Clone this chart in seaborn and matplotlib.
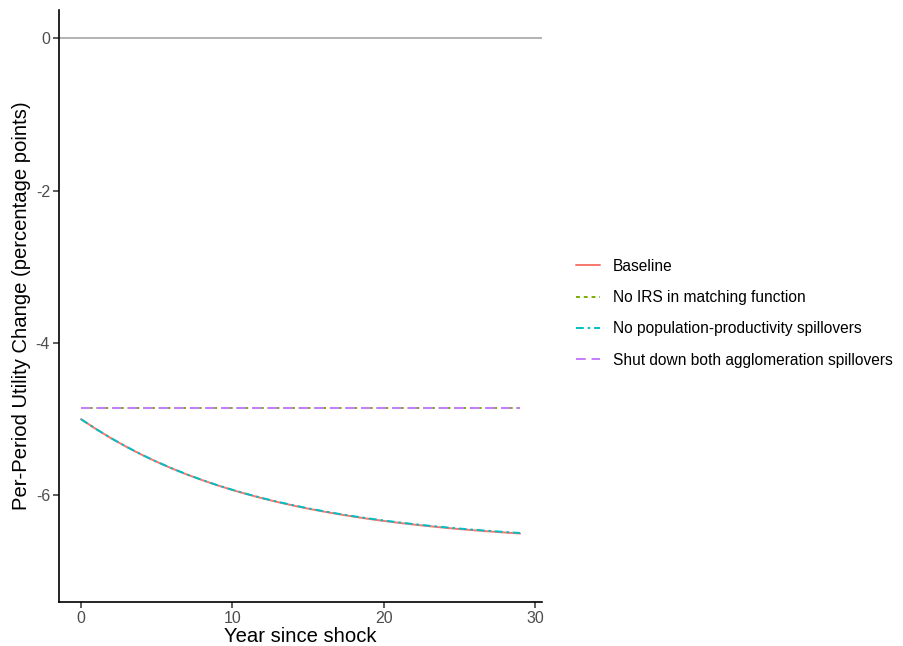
import numpy as np
import pandas as pd
import matplotlib
matplotlib.use("Agg")
import matplotlib.pyplot as plt
import seaborn as sns

# values
years = list(range(30))
baseline = [-5.000, -5.131, -5.252, -5.363, -5.466, -5.560, -5.647, -5.727,
            -5.800, -5.868, -5.930, -5.987, -6.040, -6.089, -6.133, -6.175,
            -6.212, -6.247, -6.279, -6.309, -6.336, -6.361, -6.384, -6.405,
            -6.425, -6.443, -6.459, -6.474, -6.488, -6.501]
no_pop_prod = [-5.000, -5.130, -5.251, -5.362, -5.465, -5.559, -5.645, -5.725,
               -5.798, -5.866, -5.927, -5.984, -6.037, -6.085, -6.129, -6.170,
               -6.207, -6.242, -6.274, -6.303, -6.330, -6.355, -6.378, -6.399,
               -6.418, -6.436, -6.452, -6.467, -6.481, -6.494]
no_irs = [-4.855] * 30
shut_both = [-4.855] * 30

labels = ["Baseline", "No IRS in matching function",
          "No population-productivity spillovers",
          "Shut down both agglomeration spillovers"]
colors = ["#F8766D", "#7CAE00", "#00BFC4", "#C77CFF"]

df = pd.DataFrame({
    "year": years * 4,
    "value": baseline + no_irs + no_pop_prod + shut_both,
    "scenario": np.repeat(labels, 30),
})

sns.set_style("white")
plt.rcParams["font.family"] = ["Liberation Sans", "DejaVu Sans"]

fig = plt.figure(figsize=(9.04, 6.46), dpi=100)
ax = fig.add_axes([0.0653, 0.0681, 0.5343, 0.9164])

ax.axhline(0, color="#A6A6A6", lw=1.2, zorder=1)

dashes = {labels[0]: "", labels[1]: (2, 2), labels[2]: (4, 2, 1.3, 2),
          labels[3]: (5, 3)}
sns.lineplot(data=df, x="year", y="value", hue="scenario", style="scenario",
             palette=dict(zip(labels, colors)), dashes=dashes, lw=1.4,
             ax=ax, legend=True)

ax.set_xlim(-1.45, 30.45)
ax.set_ylim(-7.40, 0.37)
ax.set_xticks([0, 10, 20, 30])
ax.set_yticks([0, -2, -4, -6])
ax.set_yticklabels(["0", "-2", "-4", "-6"])
ax.tick_params(axis="both", bottom=True, left=True, labelsize=11.5,
               labelcolor="#4D4D4D", color="#333333", length=4,
               width=1.1, direction="out", pad=2.5)
for s in ["top", "right"]:
    ax.spines[s].set_visible(False)
for s in ["left", "bottom"]:
    ax.spines[s].set_color("black")
    ax.spines[s].set_linewidth(1.2)

ax.set_xlabel("Year since shock", fontsize=14.6, color="black", labelpad=1)
ax.set_ylabel("Per-Period Utility Change (percentage points)", fontsize=14.6,
              color="black", labelpad=3)

handles, lbls = ax.get_legend_handles_labels()
leg = ax.legend(handles, lbls, loc="center left",
                bbox_to_anchor=(0.622, 0.515), bbox_transform=fig.transFigure,
                frameon=False, fontsize=11.2, handlelength=1.5,
                handletextpad=0.85, labelspacing=1.05)
for t in leg.get_texts():
    t.set_color("black")

fig.savefig("out.png", dpi=100)
